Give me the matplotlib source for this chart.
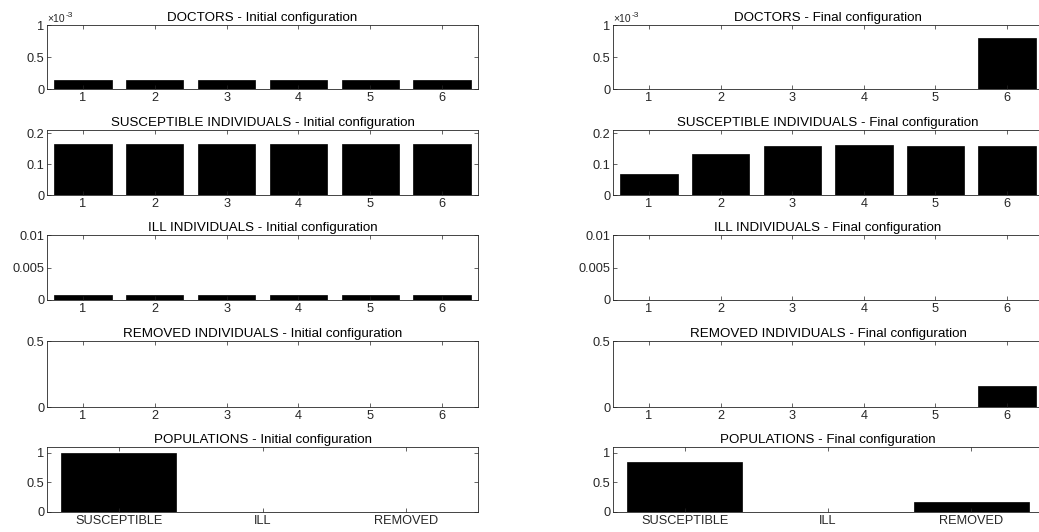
import matplotlib
matplotlib.use("Agg")
import matplotlib.pyplot as plt
from matplotlib.transforms import offset_copy
import numpy as np

plt.rcParams["font.family"] = ["Liberation Sans", "DejaVu Sans"]

# data
patches = [1, 2, 3, 4, 5, 6]
pop_labels = ["SUSCEPTIBLE", "ILL", "REMOVED"]

doctors_init = [0.000133, 0.000133, 0.000133, 0.000133, 0.000133, 0.000133]
doctors_final = [0, 0, 0, 0, 0, 0.0008]
susc_init = [0.165, 0.165, 0.165, 0.165, 0.165, 0.165]
susc_final = [0.068, 0.134, 0.159, 0.161, 0.159, 0.157]
ill_init = [0.00083, 0.00083, 0.00083, 0.00083, 0.00083, 0.00083]
ill_final = [0.00004, 0.00004, 0.00004, 0.00004, 0.00004, 0.00004]
rem_init = [0, 0, 0, 0, 0, 0]
rem_final = [0, 0, 0, 0, 0, 0.162]
pop_init = [0.995, 0.005, 0.0]
pop_final = [0.838, 0.0, 0.162]

rows = [
    ("DOCTORS", doctors_init, doctors_final, 0.001, [0, 0.5e-3, 1e-3], ["0", "0.5", "1"]),
    ("SUSCEPTIBLE INDIVIDUALS", susc_init, susc_final, 0.21, [0, 0.1, 0.2], ["0", "0.1", "0.2"]),
    ("ILL INDIVIDUALS", ill_init, ill_final, 0.01, [0, 0.005, 0.01], ["0", "0.005", "0.01"]),
    ("REMOVED INDIVIDUALS", rem_init, rem_final, 0.5, [0, 0.5], ["0", "0.5"]),
    ("POPULATIONS", pop_init, pop_final, 1.1, [0, 0.5, 1], ["0", "0.5", "1"]),
]

W, H = 1039, 532
fig = plt.figure(figsize=(W / 100, H / 100), dpi=100)

# axes boxes in pixels (top, bottom)
row_px = [(25, 89), (130, 195), (235, 300), (341, 407), (447, 512)]
col_px = [(47, 478), (613, 1043)]

for r, (name, vinit, vfinal, ytop, yt, ytl) in enumerate(rows):
    top, bot = row_px[r]
    for c, (vals, cfg) in enumerate([(vinit, "Initial"), (vfinal, "Final")]):
        left, right = col_px[c]
        ax = fig.add_axes([left / W, 1 - bot / H, (right - left) / W, (bot - top) / H])
        if name == "POPULATIONS":
            x = np.arange(1, len(pop_labels) + 1)
            ax.set_xticks(x)
            ax.set_xticklabels(pop_labels)
        else:
            x = np.array(patches)
            ax.set_xticks(x)
        ax.bar(x, vals, width=0.8, color="black", edgecolor="black", linewidth=0.5)
        ax.set_xlim(x[0] - 0.5, x[-1] + 0.5)
        ax.set_ylim(0, ytop)
        ax.set_yticks(yt)
        ax.set_yticklabels(ytl)
        ax.tick_params(direction="in", top=True, right=True, length=3, width=0.5,
                       labelsize=9.2, colors="#262626", pad=2)
        for s in ax.spines.values():
            s.set_linewidth(0.6)
            s.set_color("#262626")
        ax.set_title(f"{name} - {cfg} configuration", fontsize=9.6, pad=3, color="black")
        if name == "DOCTORS":
            # exponent label, drawn as two plain texts like MATLAB does
            ax.text(0.0, 1.01, "\u00d710", transform=ax.transAxes,
                    fontsize=7.5, color="#262626", ha="left", va="bottom")
            sup = offset_copy(ax.transAxes, fig=fig, x=19, y=5, units="dots")
            ax.text(0.0, 1.01, "-3", transform=sup,
                    fontsize=6, color="#262626", ha="left", va="bottom")

fig.savefig("out.png", dpi=100)
